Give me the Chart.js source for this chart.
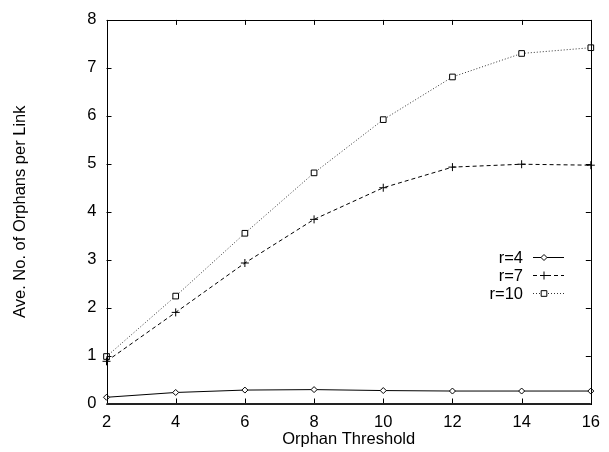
<!DOCTYPE html>
<html>
<head>
<meta charset="utf-8">
<title>Orphans per Link</title>
<script src="https://cdn.jsdelivr.net/npm/chart.js@4/dist/chart.umd.min.js"></script>
<style>
  html, body { margin: 0; padding: 0; background: #fff; }
  #wrap { width: 609px; height: 452px; }
</style>
</head>
<body>
<div id="wrap"><canvas id="canvas" width="609" height="452"></canvas></div>
<script>
// seuil d'orphelins (axe x) et moyennes mesurées pour chaque valeur de r
const thresholds = [2, 4, 6, 8, 10, 12, 14, 16];
const r4 = [0.13, 0.23, 0.28, 0.29, 0.27, 0.26, 0.26, 0.26];
const r7 = [0.88, 1.90, 2.93, 3.84, 4.50, 4.93, 4.99, 4.97];
const r10 = [0.98, 2.24, 3.55, 4.81, 5.92, 6.81, 7.30, 7.42];
const seriesLabels = ['r=4', 'r=7', 'r=10'];

const FONT = { family: '"Liberation Sans", Arial, Helvetica, sans-serif', size: 16.5 };

function toPoints(values) {
    return values.map((v, i) => ({ x: thresholds[i], y: v }));
}

// cadre + petites graduations tournées vers l'intérieur (style gnuplot)
const frameTicks = {
    id: 'frameTicks',
    afterDatasetsDraw(chart) {
        const { ctx, chartArea: a, scales } = chart;
        const len = 5;
        ctx.save();
        ctx.strokeStyle = '#000';
        ctx.lineWidth = 1;
        ctx.beginPath();
        scales.x.ticks.forEach(t => {
            const px = Math.round(scales.x.getPixelForValue(t.value)) + 0.5;
            ctx.moveTo(px, a.bottom); ctx.lineTo(px, a.bottom - len);
            ctx.moveTo(px, a.top); ctx.lineTo(px, a.top + len);
        });
        scales.y.ticks.forEach(t => {
            const py = Math.round(scales.y.getPixelForValue(t.value)) + 0.5;
            ctx.moveTo(a.left, py); ctx.lineTo(a.left + len, py);
            ctx.moveTo(a.right, py); ctx.lineTo(a.right - len, py);
        });
        ctx.stroke();
        ctx.strokeRect(Math.round(a.left) + 0.5, Math.round(a.top) + 0.5,
            Math.round(a.right - a.left), Math.round(a.bottom - a.top));
        ctx.lineWidth = 2;
        ctx.strokeStyle = '#222';
        ctx.beginPath();
        ctx.moveTo(a.left, Math.round(a.bottom));
        ctx.lineTo(a.right, Math.round(a.bottom));
        ctx.stroke();
        ctx.restore();
    }
};

// légende dans le graphe, texte aligné à droite puis échantillon de trait
const insideLegend = {
    id: 'insideLegend',
    afterDraw(chart) {
        const { ctx } = chart;
        const textRight = 523, lineX1 = 533, lineX2 = 564, markX = 544;
        const rows = [257, 275, 293];
        ctx.save();
        ctx.font = FONT.size + 'px ' + FONT.family;
        ctx.textAlign = 'right';
        ctx.textBaseline = 'middle';
        chart.data.datasets.forEach((ds, i) => {
            const y = rows[i];
            ctx.fillStyle = '#000';
            ctx.fillText(ds.label, textRight, y + 1);
            ctx.strokeStyle = ds.borderColor;
            ctx.lineWidth = 1;
            ctx.setLineDash(ds.borderDash || []);
            ctx.beginPath();
            ctx.moveTo(lineX1, y + 0.5);
            ctx.lineTo(lineX2, y + 0.5);
            ctx.stroke();
            ctx.setLineDash([]);
            // marqueur creux comme sur les courbes
            ctx.fillStyle = '#fff';
            ctx.strokeStyle = '#000';
            Chart.helpers.drawPoint(ctx, {
                pointStyle: ds.pointStyle,
                radius: ds.pointRadius,
                borderWidth: 1,
                rotation: 0
            }, markX, y + 0.5);
        });
        ctx.restore();
    }
};

const config = {
    type: 'line',
    data: {
        datasets: [
            {
                label: seriesLabels[0],
                data: toPoints(r4),
                borderColor: '#000',
                borderWidth: 1,
                pointStyle: 'rectRot',
                pointRadius: 3,
                pointBorderColor: '#000',
                pointBackgroundColor: '#fff',
                pointBorderWidth: 1,
                clip: false
            },
            {
                label: seriesLabels[1],
                data: toPoints(r7),
                borderColor: '#000',
                borderWidth: 1,
                borderDash: [4, 3],
                pointStyle: 'cross',
                pointRadius: 4,
                pointBorderColor: '#000',
                pointBorderWidth: 1,
                clip: false
            },
            {
                label: seriesLabels[2],
                data: toPoints(r10),
                borderColor: '#333',
                borderWidth: 1,
                borderDash: [1, 2],
                pointStyle: 'rect',
                pointRadius: 4,
                pointBorderColor: '#000',
                pointBackgroundColor: '#fff',
                pointBorderWidth: 1,
                clip: false
            }
        ]
    },
    options: {
        responsive: false,
        animation: false,
        layout: { padding: { top: 15, right: 16, left: 0, bottom: 0 } },
        plugins: {
            legend: { display: false },
            tooltip: { enabled: false }
        },
        scales: {
            x: {
                type: 'linear',
                min: 2,
                max: 16,
                grid: { display: false, drawTicks: false },
                border: { display: false },
                ticks: { stepSize: 2, color: '#000', font: FONT, padding: 9, maxRotation: 0 },
                title: { display: true, text: 'Orphan Threshold', color: '#000', font: FONT, padding: { top: 0, bottom: 3 } },
                afterFit(scale) { scale.height = 48.5; }
            },
            y: {
                min: 0,
                max: 8,
                grid: { display: false, drawTicks: false },
                border: { display: false },
                ticks: { stepSize: 1, color: '#000', font: FONT, padding: 10 },
                title: { display: true, text: 'Ave. No. of Orphans per Link', color: '#000', font: FONT, padding: { top: 11, bottom: 0 } },
                afterFit(scale) { scale.width = 106.5; }
            }
        }
    },
    plugins: [frameTicks, insideLegend]
};

new Chart(document.getElementById('canvas'), config);
</script>
</body>
</html>
